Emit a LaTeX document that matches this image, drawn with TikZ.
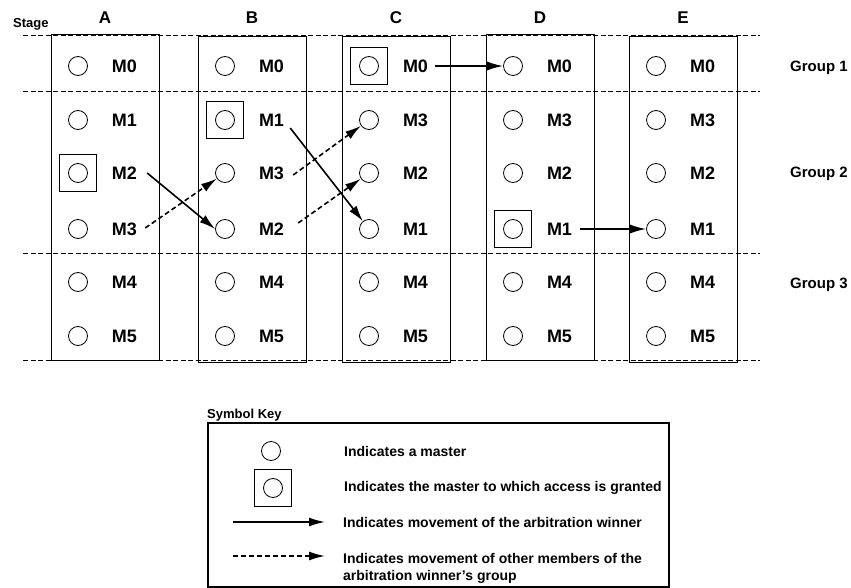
\documentclass[tikz,border=0pt]{standalone}
\usepackage{fontspec}
\setmainfont{Liberation Sans}
\usetikzlibrary{arrows.meta}
\tikzset{
  master/.style={circle, draw, minimum size=19pt, inner sep=0pt, line width=0.8pt},
  grant/.style={draw, minimum size=37pt, inner sep=0pt, line width=1pt},
  mlabel/.style={font=\bfseries\fontsize{18}{18}\selectfont, inner sep=0pt},
  letter/.style={font=\bfseries\fontsize{17}{17}\selectfont, inner sep=0pt, anchor=base},
  small/.style={font=\bfseries\fontsize{13}{13}\selectfont, inner sep=0pt, anchor=base west},
  grp/.style={font=\bfseries\fontsize{15}{15}\selectfont, inner sep=0pt, anchor=base west},
  keytext/.style={font=\bfseries\fontsize{14}{17}\selectfont, inner sep=0pt, anchor=west, align=left},
  stagebox/.style={draw, line width=1pt},
  win/.style={-{Latex[length=16pt,width=9pt]}, line width=1.6pt},
  other/.style={win, dash pattern=on 5pt off 3pt},
  sep/.style={dash pattern=on 5pt off 2.5pt, line width=0.7pt}
}
\begin{document}
\begin{tikzpicture}[x=1pt,y=-1pt]
\useasboundingbox (0,0) rectangle (851,588);
% group separators
\foreach \yy in {35,91,253,360}
  \draw[sep] (23,\yy) -- (760,\yy);
\node[small] (stage) at (13,28) {Stage};
% columns
\foreach \c/\L/\T/\B/\labs in {A/51/35/360/{0,1,2,3,4,5},
                               B/198/37/362/{0,1,3,2,4,5},
                               C/342/37/362/{0,3,2,1,4,5},
                               D/486/35/360/{0,3,2,1,4,5},
                               E/629/37/362/{0,3,2,1,4,5}} {
  \draw[stagebox] (\L,\T) rectangle (\L+108,\B);
  \node[letter] (L\c) at (\L+54,24) {\c};
  \foreach \m [count=\i] in \labs {
    \pgfmathsetmacro\yy{{66,120,173,229,282,336}[\i-1]}
    \node[master] (c\c\i) at (\L+27,\yy) {};
    \node[mlabel] (t\c\i) at (\L+73.5,\yy) {M\m};
  }
}
% granted masters
\node[grant] (gA) at (cA3) {};
\node[grant] (gB) at (cB2) {};
\node[grant] (gC) at (cC1) {};
\node[grant] (gD) at (cD4) {};
% groups
\node[grp] (g1) at (790,72) {Group 1};
\node[grp] (g2) at (790,178) {Group 2};
\node[grp] (g3) at (790,288) {Group 3};
% movements
\draw[win] ([xshift=10pt]tA3.east) -- (cB4.west);
\draw[other] ([xshift=8pt,yshift=1pt]tA4.east) -- (cB3);
\draw[win] ([xshift=6pt,yshift=-8pt]tB2.east) -- (cC4);
\draw[other] ([xshift=9pt,yshift=-2pt]tB3.east) -- (cC2);
\draw[other] ([xshift=14pt,yshift=6pt]tB4.east) -- (cC3);
\draw[win] ([xshift=7pt]tC1.east) -- (cD1.west);
\draw[win] ([xshift=8pt]tD4.east) -- (cE4.west);
% symbol key
\node[small] (keytitle) at (207,418) {Symbol Key};
\draw[line width=1.3pt] (208,423) rectangle (669,587);
\node[master] (k1) at (271,451) {};
\node[keytext] (kt1) at (344,451) {Indicates a master};
\node[grant] (k2s) at (273,488) {};
\node[master] (k2) at (273,488) {};
\node[keytext] (kt2) at (344,488) {Indicates the master to which access is granted};
\coordinate (k3a) at (233,522);
\coordinate (k3b) at (325,522);
\draw[win] (k3a) -- (k3b);
\node[keytext] (kt3) at (343,522) {Indicates movement of the arbitration winner};
\coordinate (k4a) at (233,556);
\coordinate (k4b) at (325,556);
\draw[other] (k4a) -- (k4b);
\node[keytext] (kt4) at (343,568) {Indicates movement of other members of the\\arbitration winner’s group};
\end{tikzpicture}
\end{document}
